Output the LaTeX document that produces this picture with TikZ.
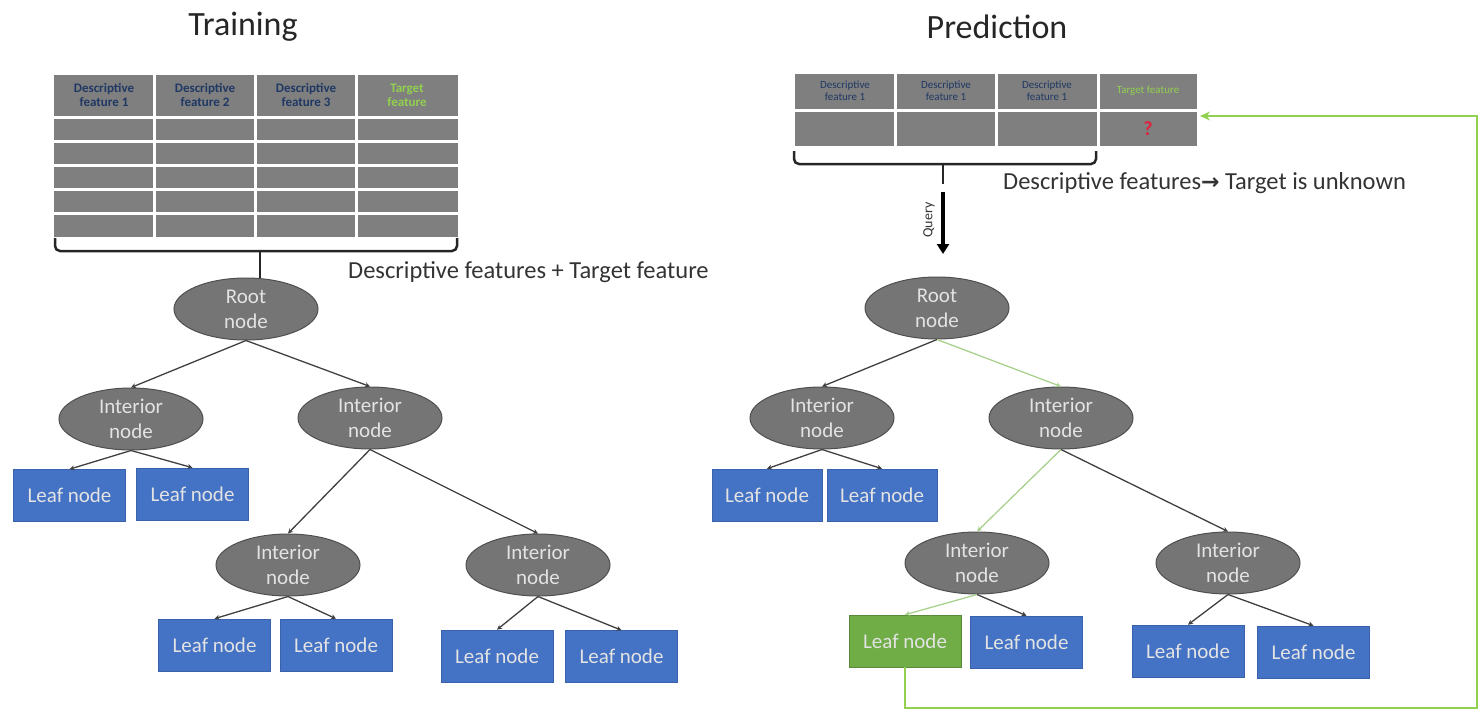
\documentclass[tikz,border=0pt]{standalone}
\usepackage{fontspec}
\setmainfont{Carlito}
\newfontfamily\djv{DejaVu Sans}
\usetikzlibrary{shapes.geometric,arrows.meta}
\definecolor{cellgray}{HTML}{7F7F7F}
\definecolor{ellfill}{HTML}{757575}
\definecolor{ellline}{HTML}{4F4F4F}
\definecolor{nodetext}{HTML}{E3E3E3}
\definecolor{leafblue}{HTML}{4472C4}
\definecolor{leafline}{HTML}{3A62AA}
\definecolor{leafgreen}{HTML}{70AD47}
\definecolor{fbgreen}{HTML}{92D050}
\definecolor{pathgreen}{HTML}{A9D18E}
\definecolor{edgegray}{HTML}{404040}
\definecolor{hdrblue}{HTML}{1F3864}
\definecolor{qred}{HTML}{E0203A}
\tikzset{
  ell/.style={ellipse, fill=ellfill, draw=ellline, line width=1pt, minimum width=144pt, minimum height=62pt, inner sep=0pt, align=center, text=nodetext, font=\fontsize{21}{25}\selectfont},
  leaf/.style={rectangle, fill=leafblue, draw=leafline, line width=0.6pt, minimum width=112pt, minimum height=52pt, inner sep=0pt, text=nodetext, font=\fontsize{21}{25}\selectfont},
  gleafst/.style={leaf, fill=leafgreen, draw=leafgreen!80!black},
  edge/.style={draw=edgegray, line width=1.3pt, -{Stealth[length=5pt,width=5pt]}},
  gedge/.style={draw=pathgreen, line width=1.3pt, -{Stealth[length=5pt,width=5pt]}},
  hdr/.style={text=hdrblue, align=center, font=\bfseries\fontsize{13}{14}\selectfont, inner sep=0pt},
  hdrs/.style={text=hdrblue, align=center, font=\fontsize{11}{12}\selectfont, inner sep=0pt},
  title/.style={font=\fontsize{34}{40}\selectfont, text=black!85},
  lbl/.style={font=\fontsize{24.5}{28}\selectfont, text=black!80, inner sep=0pt},
  brace/.style={draw=black!85, line width=2.5pt, rounded corners=5pt},
  sep/.style={draw=white, line width=3pt},
  fb/.style={draw=fbgreen, line width=2pt, -{Stealth[length=10pt,width=9pt]}}
}
\begin{document}
\begin{tikzpicture}[x=1pt,y=-1pt]
\useasboundingbox (0,0) rectangle (1482,712);
% titles
\node[title] (t1) at (243,27) {Training};
\node[title] (t2) at (997,27) {Prediction};
% training table
\fill[cellgray] (54,75) rectangle (458,237);
\foreach \x in {154.5,255.5,356.5} \draw[sep] (\x,75) -- (\x,237);
\foreach \y in {117,141,165.5,189.5,213.5} \draw[sep] (54,\y) -- (458,\y);
\node[hdr] (h1) at (104,95) {Descriptive\\feature 1};
\node[hdr] (h2) at (205,95) {Descriptive\\feature 2};
\node[hdr] (h3) at (306,95) {Descriptive\\feature 3};
\node[hdr, text=fbgreen] (h4) at (407,95) {Target\\feature};
% training brace
\draw[brace] (55,238) -- (55,251) -- (457,251) -- (457,238);
\node[ell] (r1) at (246,309) {Root\\node};
\draw[draw=black!85, line width=2.5pt] (260,251) -- (260,278);
\node[lbl, anchor=west] (d1) at (348,272) {Descriptive features + Target feature};
% training tree
\node[ell] (a1) at (131,419) {Interior\\node};
\node[ell] (a2) at (370,418) {Interior\\node};
\node[leaf] (l1) at (69.5,495.5) {Leaf node};
\node[leaf] (l2) at (192.5,494) {Leaf node};
\node[ell] (b1) at (288,565) {Interior\\node};
\node[ell] (b2) at (538,565) {Interior\\node};
\node[leaf] (l3) at (214.5,645) {Leaf node};
\node[leaf] (l4) at (336,645) {Leaf node};
\node[leaf] (l5) at (497,656) {Leaf node};
\node[leaf] (l6) at (621.5,656.5) {Leaf node};
\draw[edge] (r1.south) -- (a1.north);
\draw[edge] (r1.south) -- (a2.north);
\draw[edge] (a1.south) -- (l1.north);
\draw[edge] (a1.south) -- (l2.north);
\draw[edge] (a2.south) -- (b1.north);
\draw[edge] (a2.south) -- (b2.north);
\draw[edge] (b1.south) -- (l3.north);
\draw[edge] (b1.south) -- (l4.north);
\draw[edge] (b2.south) -- (l5.north);
\draw[edge] (b2.south) -- (l6.north);
% prediction table
\fill[cellgray] (795,74) rectangle (1197,146);
\foreach \x in {895.5,996.5,1098} \draw[sep] (\x,74) -- (\x,146);
\draw[sep] (795,110) -- (1197,110);
\node[hdrs] (p1) at (845,91) {Descriptive\\feature 1};
\node[hdrs] (p2) at (946,91) {Descriptive\\feature 1};
\node[hdrs] (p3) at (1047,91) {Descriptive\\feature 1};
\node[hdrs, text=fbgreen] (p4) at (1148,91) {Target feature};
\node[text=qred, font=\bfseries\fontsize{20}{22}\selectfont, inner sep=0pt] (qm) at (1148,129) {?};
\coordinate (tgt) at (1200,116);
% prediction brace
\draw[brace] (794,151) -- (794,164) -- (1096,164) -- (1096,151);
\draw[draw=black!85, line width=2.5pt] (943,164) -- (943,184);
\node[lbl, anchor=west] (d2) at (1003,183) {Descriptive features{\djv\bfseries\fontsize{22}{26}\selectfont →} Target is unknown};
% query arrow
\coordinate (qs) at (943,192);
\coordinate (qe) at (943,254);
\draw[draw=black, line width=3.5pt, -{Triangle[length=10pt,width=12pt]}] (qs) -- (qe);
\node[rotate=90, font=\fontsize{14}{16}\selectfont, text=black!80] (ql) at (929,220) {Query};
% prediction tree
\node[ell] (pr) at (937,308) {Root\\node};
\node[ell] (pa1) at (822,418) {Interior\\node};
\node[ell] (pa2) at (1061,418) {Interior\\node};
\node[leaf, minimum width=110pt] (pl1) at (767,495) {Leaf node};
\node[leaf, minimum width=110pt] (pl2) at (882,495) {Leaf node};
\node[ell] (pb1) at (977,563) {Interior\\node};
\node[ell] (pb2) at (1228,563) {Interior\\node};
\node[gleafst] (pl3) at (905,641) {Leaf node};
\node[leaf] (pl4) at (1026.5,642) {Leaf node};
\node[leaf] (pl5) at (1188,651) {Leaf node};
\node[leaf] (pl6) at (1313.5,652) {Leaf node};
\draw[edge] (pr.south) -- (pa1.north);
\draw[gedge] (pr.south) -- (pa2.north);
\draw[edge] (pa1.south) -- (pl1.north);
\draw[edge] (pa1.south) -- (pl2.north);
\draw[gedge] (pa2.south) -- (pb1.north);
\draw[edge] (pa2.south) -- (pb2.north);
\draw[gedge] (pb1.south) -- (pl3.north);
\draw[edge] (pb1.south) -- (pl4.north);
\draw[edge] (pb2.south) -- (pl5.north);
\draw[edge] (pb2.south) -- (pl6.north);
% feedback
\coordinate (cr) at (1477,708);
\draw[fb] (pl3.south) |- (cr) |- (tgt);
\end{tikzpicture}
\end{document}
